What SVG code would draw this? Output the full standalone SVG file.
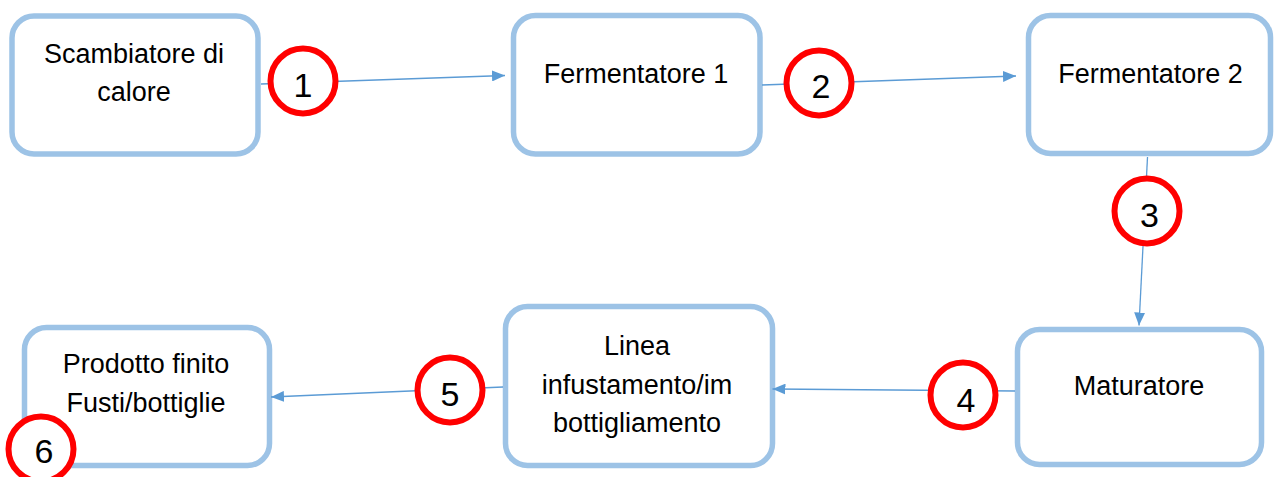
<svg xmlns="http://www.w3.org/2000/svg" width="1275" height="477" viewBox="0 0 1275 477">
  <style>
    .box { fill: #FFFFFF; stroke: #9DC3E6; stroke-width: 5.5; }
    .label { font-family: "Liberation Sans", Arial, sans-serif; font-size: 27px; fill: #000000; text-anchor: middle; }
    .link { stroke: #5B9BD5; stroke-width: 1.3; fill: none; marker-end: url(#arrow); }
    .badge { fill: #FFFFFF; stroke: #FF0000; stroke-width: 6; }
    .num { font-family: "Liberation Sans", Arial, sans-serif; font-size: 34px; fill: #000000; text-anchor: middle; }
  </style>
  <defs>
    <marker id="arrow" markerUnits="userSpaceOnUse" markerWidth="13" markerHeight="11" refX="13" refY="5.5" orient="auto">
      <path d="M0,0 L13,5.5 L0,11 Z" fill="#5B9BD5"/>
    </marker>
  </defs>

  <rect width="1275" height="477" fill="#FFFFFF"/>

  <!-- process steps -->
  <g id="scambiatore">
    <rect class="box" x="12" y="16" width="246" height="138" rx="22"/>
    <text class="label" x="134" y="63">Scambiatore di</text>
    <text class="label" x="134" y="101">calore</text>
  </g>
  <g id="fermentatore1">
    <rect class="box" x="513.5" y="15.5" width="246.5" height="138.5" rx="22"/>
    <text class="label" x="636" y="83">Fermentatore 1</text>
  </g>
  <g id="fermentatore2">
    <rect class="box" x="1028.5" y="15.5" width="242" height="138" rx="22"/>
    <text class="label" x="1150.5" y="83">Fermentatore 2</text>
  </g>
  <g id="maturatore">
    <rect class="box" x="1017.5" y="329.5" width="244" height="135" rx="22"/>
    <text class="label" x="1139" y="395">Maturatore</text>
  </g>
  <g id="linea">
    <rect class="box" x="505.5" y="306.5" width="267" height="159" rx="22"/>
    <text class="label" x="637" y="355">Linea</text>
    <text class="label" x="637" y="394">infustamento/im</text>
    <text class="label" x="637" y="432">bottigliamento</text>
  </g>
  <g id="prodotto">
    <rect class="box" x="24.5" y="327.5" width="245" height="138" rx="22"/>
    <text class="label" x="146" y="373">Prodotto finito</text>
    <text class="label" x="146" y="412">Fusti/bottiglie</text>
  </g>

  <!-- flow connectors -->
  <g id="connectors">
    <line class="link" x1="261" y1="84" x2="505" y2="75.5"/>
    <line class="link" x1="762" y1="85" x2="1016" y2="76"/>
    <line class="link" x1="1147.5" y1="157" x2="1139" y2="325.5"/>
    <line class="link" x1="1015" y1="391" x2="772.5" y2="389"/>
    <line class="link" x1="503" y1="387" x2="271" y2="397"/>
  </g>

  <!-- numbered step markers -->
  <g id="step1">
    <circle class="badge" cx="303" cy="81" r="32.5"/>
    <text class="num" x="303" y="97">1</text>
  </g>
  <g id="step2">
    <circle class="badge" cx="819" cy="83" r="32.5"/>
    <text class="num" x="821" y="98">2</text>
  </g>
  <g id="step3">
    <circle class="badge" cx="1147" cy="211" r="32.5"/>
    <text class="num" x="1149.5" y="227">3</text>
  </g>
  <g id="step4">
    <circle class="badge" cx="963" cy="395" r="32.5"/>
    <text class="num" x="966" y="412">4</text>
  </g>
  <g id="step5">
    <circle class="badge" cx="450" cy="390" r="32.5"/>
    <text class="num" x="450" y="406">5</text>
  </g>
  <g id="step6">
    <circle class="badge" cx="41" cy="449" r="32.5"/>
    <text class="num" x="44" y="463">6</text>
  </g>
</svg>
